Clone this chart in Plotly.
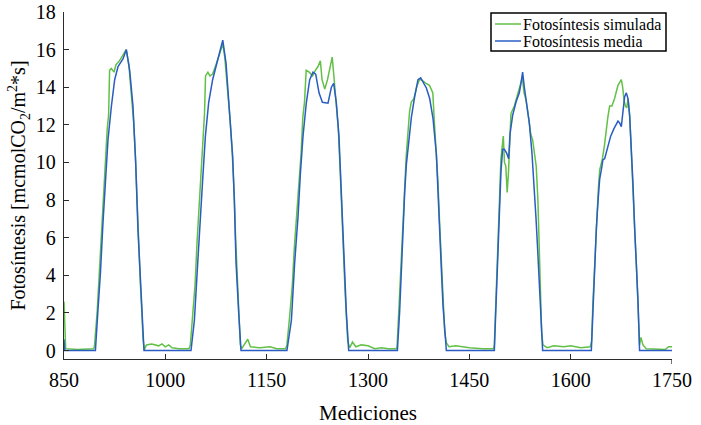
import plotly.graph_objects as go

# Photosynthesis series: measurement index vs. rate (mcmol CO2 / m2 s)
x_media = [
    850, 851, 895,
    896.5, 900, 903.9, 907.7, 911.7, 915.1, 920.2, 925, 930, 937.3, 942.3,
    947.2, 952.1, 956.1, 959.5, 963.5, 968.4,
    1038, 1043, 1048, 1052, 1055.3, 1059.3, 1064.2, 1070, 1075, 1081, 1085,
    1089.8, 1094.8, 1099.7, 1102.2, 1104.6, 1108.6, 1112,
    1180, 1186.6, 1191.5, 1196.4, 1199.9, 1203.8, 1208.8, 1213.7, 1218.6, 1222.6,
    1227.5, 1232.5, 1240.8, 1245.8, 1249.2, 1253.2, 1257, 1259.6, 1262, 1264.5,
    1268, 1271.4,
    1343.5, 1346.9, 1349.4, 1351.8, 1354.3, 1356.8, 1360.2, 1364.2, 1369.1, 1374,
    1378, 1381.4, 1386.4, 1391.3, 1396.2, 1401.2, 1403.6, 1406.1, 1408.6, 1411,
    1413.5, 1416,
    1487, 1489.4, 1491.9, 1494.4, 1496.8, 1499.3, 1501.8, 1505.2, 1508.2, 1510.2,
    1514.1, 1519, 1524, 1526.4, 1528.9, 1531.4, 1533.8, 1538.8, 1542.7, 1546.2,
    1548.6, 1551.1, 1553.6, 1556, 1558.5,
    1630.6, 1633, 1635.5, 1638, 1640.4, 1642.9, 1645.4, 1647.8, 1650.3, 1655.2,
    1659.2, 1664.1, 1667.6, 1670, 1672.5, 1675, 1677.4, 1679.9, 1682.4, 1684.8,
    1687.3, 1689.8, 1692.2, 1694.7, 1697.2, 1699.6, 1702,
    1750,
]
y_media = [
    0.6, 0, 0,
    0, 2.0, 4.1, 6.8, 9.1, 11.2, 13.0, 14.4, 15.1, 15.5, 16.0,
    14.9, 13.0, 10.0, 6.4, 3.6, 0,
    0, 1.6, 4.7, 6.8, 9.1, 11.4, 13.2, 14.4, 15.1, 16.0, 16.5,
    15.3, 13.0, 10.3, 7.9, 4.7, 2.0, 0,
    0, 1.6, 4.7, 7.1, 9.4, 11.4, 13.2, 14.4, 14.8, 14.7,
    13.7, 13.2, 13.15, 14.0, 14.2, 13.15, 11.4, 9.1, 6.4, 4.3,
    2.0, 0,
    0, 2.1, 4.5, 6.5, 8.4, 9.9, 11.2, 12.4, 13.5, 14.4,
    14.5, 14.25, 13.96, 13.4, 12.35, 10.45, 8.7, 6.5, 4.3, 2.4,
    0.95, 0,
    0, 2.4, 5.2, 7.7, 9.5, 10.7, 10.7, 10.5, 10.2, 11.5,
    12.5, 13.2, 13.7, 14.2, 14.8, 14.0, 13.45, 12.1, 10.5, 8.75,
    7.1, 5.4, 3.3, 1.4, 0,
    0, 2.2, 4.6, 6.5, 7.9, 9.1, 9.6, 10.15, 10.2, 10.8,
    11.4, 11.8, 12.0, 12.2, 12.1, 11.9, 12.7, 13.5, 13.7, 13.4,
    12.5, 10.8, 8.9, 6.5, 4.6, 2.7, 0,
    0,
]

x_simulada = [
    850, 851, 852.5, 870, 894,
    895, 899, 903, 906, 909, 912, 914, 916, 917.5, 920, 924, 927, 932, 937, 942,
    946, 950, 953, 955.5, 958, 960.5, 963, 965, 967, 969, 972, 980, 990, 995,
    1000, 1005, 1010, 1020, 1035,
    1037, 1040, 1044, 1047, 1050, 1053, 1056, 1058, 1059.5, 1063, 1066, 1070,
    1075, 1080, 1085, 1088, 1092, 1096, 1099, 1102, 1104, 1107, 1109, 1111,
    1113, 1118, 1122, 1126, 1140, 1155, 1165, 1178,
    1180, 1184, 1188, 1191, 1195, 1198, 1201, 1203.5, 1206, 1208.5, 1213, 1218,
    1222, 1226, 1229.5, 1232, 1236, 1240, 1243, 1247, 1249.5, 1253, 1256, 1259,
    1261.5, 1263.5, 1266, 1268, 1270, 1273, 1277, 1282, 1290, 1300, 1310, 1320,
    1330, 1342,
    1343, 1346, 1349, 1351.5, 1354, 1356.5, 1359, 1361.5, 1364, 1368, 1372,
    1376, 1379, 1382, 1386, 1391, 1396, 1398, 1401, 1403.5, 1406, 1408.5, 1411,
    1413.5, 1416, 1420, 1430, 1440, 1450, 1470, 1486,
    1487, 1489.5, 1492, 1494.5, 1496.8, 1500.3, 1502, 1504, 1506, 1508, 1511.6,
    1516.6, 1521.5, 1524, 1528.5, 1531, 1534, 1538, 1541, 1543.7, 1546, 1549,
    1551.5, 1553.5, 1555, 1557, 1559, 1565, 1575, 1590, 1600, 1615, 1629,
    1631, 1633, 1636, 1638.5, 1641, 1643, 1647, 1650, 1653, 1655, 1657.7, 1661,
    1665, 1667.6, 1670, 1675, 1677, 1679, 1681, 1683, 1685, 1687.5, 1690,
    1692.5, 1695, 1697.5, 1700, 1702, 1704, 1707, 1712, 1740, 1745, 1750,
]
y_simulada = [
    2.6, 1.5, 0.1, 0.05, 0.1,
    0.2, 2.0, 4.6, 6.5, 8.8, 10.5, 11.8, 12.5, 14.9, 15.0, 14.8, 15.2, 15.4, 15.7, 16.0,
    15.2, 13.5, 12.2, 10.5, 8.0, 5.8, 3.6, 2.2, 0.6, 0.05, 0.3, 0.35, 0.25, 0.35,
    0.2, 0.3, 0.15, 0.1, 0.1,
    0.3, 1.5, 3.5, 5.8, 7.6, 9.5, 11.5, 12.6, 14.6, 14.8, 14.6, 14.7,
    15.2, 15.8, 16.3, 15.6, 14.0, 12.2, 10.5, 8.3, 6.0, 3.5, 1.8, 0.3,
    0.1, 0.4, 0.6, 0.2, 0.15, 0.2, 0.1, 0.1,
    0.3, 1.8, 3.5, 5.5, 7.6, 9.5, 10.5, 12.4, 13.2, 14.9, 14.8, 14.6,
    14.9, 15.1, 15.4, 14.4, 13.9, 14.4, 15.0, 15.6, 14.6, 13.3, 11.8, 9.4,
    7.0, 5.0, 3.2, 1.8, 0.5, 0.15, 0.45, 0.2, 0.3, 0.25, 0.1, 0.15,
    0.1, 0.1,
    0.2, 2.4, 4.8, 6.8, 8.6, 10.3, 11.5, 12.7, 13.2, 13.4, 14.0,
    14.4, 14.4, 14.3, 14.2, 14.1, 13.7, 12.3, 10.8, 9.0, 6.8, 4.6, 2.6,
    1.0, 0.4, 0.2, 0.25, 0.2, 0.15, 0.1, 0.1,
    0.3, 2.8, 5.6, 8.0, 10.2, 11.4, 10.0, 9.8, 8.4, 9.5, 12.6,
    13.0, 13.6, 14.0, 14.5, 13.7, 13.3, 12.3, 11.5, 11.2, 10.5, 9.8,
    8.0, 5.0, 2.5, 1.0, 0.3, 0.15, 0.25, 0.2, 0.25, 0.15, 0.2,
    0.5, 2.6, 5.0, 7.0, 8.6, 9.6, 10.2, 10.9, 12.0, 12.4, 13.0, 13.0,
    13.4, 13.8, 14.1, 14.4, 14.0, 13.3, 13.0, 12.9, 13.4, 12.4, 10.6,
    8.6, 6.3, 4.4, 2.4, 0.3, 0.7, 0.3, 0.1, 0.05, 0.2, 0.2,
]

x_ticks = [850, 1000, 1150, 1300, 1450, 1600, 1750]
y_ticks = [0, 2, 4, 6, 8, 10, 12, 14, 16, 18]

series_names = ["Fotosíntesis simulada", "Fotosíntesis media"]
series_colors = ["#62c046", "#2a5cc4"]

serif = "Liberation Serif, Times New Roman, serif"
axis_color = "#2b2b2b"

fig = go.Figure()
fig.add_trace(go.Scatter(
    x=x_simulada, y=y_simulada, mode="lines", name=series_names[0],
    line=dict(color=series_colors[0], width=1.5), showlegend=False,
))
fig.add_trace(go.Scatter(
    x=x_media, y=y_media, mode="lines", name=series_names[1],
    line=dict(color=series_colors[1], width=1.5), showlegend=False,
))

# Boxed legend in the upper right corner
plot_l, plot_r, plot_t, plot_b = 64, 672, 12, 359
pw, ph = plot_r - plot_l, plot_b - plot_t


def px_x(px):
    return (px - plot_l) / pw


def px_y(py):
    return (plot_b - py) / ph


shapes = [dict(
    type="rect", xref="paper", yref="paper",
    x0=px_x(491), x1=px_x(666), y0=px_y(51), y1=px_y(13),
    line=dict(color="black", width=1.5), fillcolor="white", layer="above",
)]
annotations = []
for i, (name, color) in enumerate(zip(series_names, series_colors)):
    row_y = 24 + i * 17
    shapes.append(dict(
        type="line", xref="paper", yref="paper",
        x0=px_x(495), x1=px_x(521), y0=px_y(row_y), y1=px_y(row_y),
        line=dict(color=color, width=1.5), layer="above",
    ))
    annotations.append(dict(
        xref="paper", yref="paper", x=px_x(522), y=px_y(row_y),
        xanchor="left", yanchor="middle", text=name, showarrow=False,
        height=16, valign="middle", borderpad=0,
        font=dict(family=serif, size=16, color="black"),
    ))

# Closing tick at the right end of the x axis, reaching below the line
shapes.append(dict(
    type="line", xref="x", yref="paper", x0=x_ticks[-1], x1=x_ticks[-1],
    y0=0, y1=-5 / ph, line=dict(color=axis_color, width=1.3),
))

fig.update_layout(
    width=701, height=425,
    margin=dict(l=plot_l, r=701 - plot_r, t=plot_t, b=425 - plot_b),
    paper_bgcolor="white", plot_bgcolor="white",
    font=dict(family=serif, size=20, color="black"),
    shapes=shapes, annotations=annotations,
    xaxis=dict(
        range=[850, 1750], tickvals=x_ticks, ticks="inside", ticklen=5,
        tickcolor=axis_color, showline=True, linecolor=axis_color, linewidth=1.3,
        showgrid=False, zeroline=False, ticklabelstandoff=3, automargin=False,
        tickfont=dict(family=serif, size=20, color="black"),
        title=dict(text="Mediciones", font=dict(family=serif, size=21), standoff=20),
    ),
    yaxis=dict(
        range=[-0.45, 18], tickvals=y_ticks, ticks="inside", ticklen=5,
        tickcolor=axis_color, showline=True, linecolor=axis_color, linewidth=1.3,
        showgrid=False, zeroline=False, ticklabelstandoff=3, automargin=False,
        tickfont=dict(family=serif, size=20, color="black"),
        title=dict(text="Fotosíntesis [mcmolCO<sub>2</sub>/m<sup>2</sup>*s]",
                   font=dict(family=serif, size=20), standoff=4),
    ),
)

fig.write_html("out.html")
